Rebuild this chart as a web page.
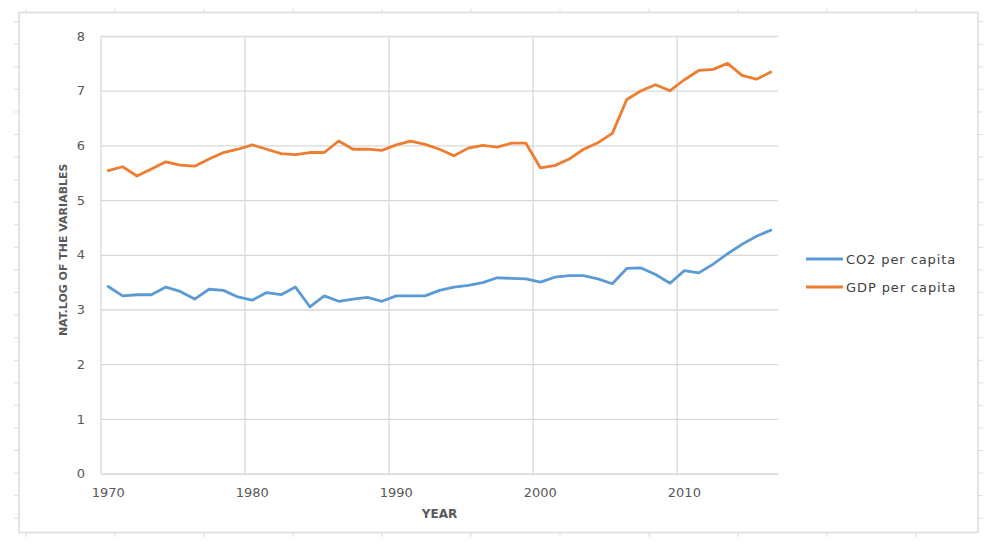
<!DOCTYPE html>
<html>
<head>
<meta charset="utf-8">
<script src="https://cdn.jsdelivr.net/npm/d3@7"></script>
<style>
  body { margin: 0; background: #fff; }
  svg text { font-family: "DejaVu Sans", sans-serif; }
</style>
</head>
<body>
<div id="wrapper"></div>
<script>
const years = d3.range(1970, 2017);

const co2 = [
  3.42, 3.25, 3.27, 3.27, 3.41, 3.33, 3.19, 3.37, 3.35, 3.23,
  3.17, 3.31, 3.27, 3.41, 3.05, 3.25, 3.15, 3.19, 3.22, 3.15,
  3.25, 3.25, 3.25, 3.35, 3.41, 3.44, 3.49, 3.58, 3.57, 3.56,
  3.50, 3.59, 3.62, 3.62, 3.56, 3.47, 3.75, 3.76, 3.64, 3.48,
  3.71, 3.67, 3.83, 4.02, 4.19, 4.34, 4.45,
];

const gdp = [
  5.54, 5.61, 5.44, 5.57, 5.70, 5.64, 5.62, 5.75, 5.87, 5.93,
  6.01, 5.93, 5.85, 5.83, 5.87, 5.87, 6.08, 5.93, 5.93, 5.91,
  6.01, 6.08, 6.02, 5.93, 5.81, 5.95, 6.00, 5.97, 6.04, 6.04,
  5.59, 5.63, 5.75, 5.93, 6.05, 6.22, 6.84, 7.00, 7.11, 7.00,
  7.20, 7.37, 7.39, 7.50, 7.28, 7.21, 7.34,
];

const xTickYears = [1970, 1980, 1990, 2000, 2010];
const yTicks = [0, 1, 2, 3, 4, 5, 6, 7, 8];

const seriesNames = ["CO2 per capita", "GDP per capita"];
const seriesColors = ["#5b9bd5", "#ed7d31"];

function buildChart() {
  const dimensions = { width: 995, height: 550 };
  const plot = { left: 101, right: 778, top: 36, bottom: 473.6 };

  const svg = d3
    .select("#wrapper")
    .append("svg")
    .attr("width", dimensions.width)
    .attr("height", dimensions.height);

  // outer frame with the little ruler ticks round it
  const frame = svg.append("g").attr("stroke", "#dcdcdc");
  frame
    .append("rect")
    .attr("x", 19)
    .attr("y", 12.5)
    .attr("width", 959)
    .attr("height", 520)
    .attr("fill", "none")
    .attr("stroke-width", 1.5);
  d3.range(26, 920, 89).forEach((tx) => {
    frame.append("line").attr("x1", tx).attr("x2", tx).attr("y1", 9).attr("y2", 12.5);
    frame.append("line").attr("x1", tx).attr("x2", tx).attr("y1", 533).attr("y2", 537);
  });
  d3.range(21.7, 525, 22.57).forEach((ty) => {
    frame.append("line").attr("x1", 14).attr("x2", 19).attr("y1", ty).attr("y2", ty);
    frame.append("line").attr("x1", 978).attr("x2", 983).attr("y1", ty).attr("y2", ty);
  });

  const x = d3
    .scaleBand()
    .domain(years)
    .range([plot.left, plot.right])
    .padding(0);

  const y = d3
    .scaleLinear()
    .domain([0, 8])
    .range([plot.bottom, plot.top]);

  // horizontal gridlines + y labels
  const yAxis = svg
    .append("g")
    .attr("transform", `translate(${plot.left},0)`)
    .call(
      d3
        .axisLeft(y)
        .tickValues(yTicks)
        .tickSize(-(plot.right - plot.left))
        .tickPadding(16)
    );
  yAxis.select(".domain").remove();
  yAxis.selectAll(".tick line").attr("stroke", "#d9d9d9").attr("stroke-width", 1.3);
  yAxis
    .selectAll(".tick text")
    .attr("fill", "#595959")
    .style("font-size", "13px");

  // vertical gridlines at the category boundaries
  svg
    .append("g")
    .selectAll("line")
    .data(xTickYears)
    .join("line")
    .attr("x1", (d) => x(d))
    .attr("x2", (d) => x(d))
    .attr("y1", plot.top)
    .attr("y2", plot.bottom)
    .attr("stroke", "#d9d9d9")
    .attr("stroke-width", 1.3);

  // x labels centred on the category
  const xAxis = svg
    .append("g")
    .attr("transform", `translate(0,${plot.bottom})`)
    .call(
      d3
        .axisBottom(x)
        .tickValues(xTickYears)
        .tickSize(0)
        .tickPadding(14)
    );
  xAxis.select(".domain").attr("stroke", "#d9d9d9").attr("stroke-width", 1.3);
  xAxis
    .selectAll(".tick text")
    .attr("fill", "#595959")
    .style("font-size", "13px");

  // series lines
  const line = (values) =>
    d3
      .line()
      .x((d, i) => x(years[i]) + x.bandwidth() / 2)
      .y((d) => y(d))(values);

  [co2, gdp].forEach((values, i) => {
    svg
      .append("path")
      .attr("d", line(values))
      .attr("fill", "none")
      .attr("stroke", seriesColors[i])
      .attr("stroke-width", 2.8)
      .attr("stroke-linejoin", "round")
      .attr("stroke-linecap", "round");
  });

  // axis titles
  svg
    .append("text")
    .attr("x", (plot.left + plot.right) / 2)
    .attr("y", 518)
    .attr("text-anchor", "middle")
    .attr("fill", "#595959")
    .style("font-size", "12px")
    .style("font-weight", "bold")
    .text("YEAR");

  svg
    .append("text")
    .attr("transform", `translate(67,${(plot.top + plot.bottom) / 2 - 5}) rotate(-90)`)
    .attr("text-anchor", "middle")
    .attr("fill", "#595959")
    .style("font-size", "11px")
    .style("font-weight", "bold")
    .text("NAT.LOG OF THE VARIABLES");

  // legend
  const legend = svg
    .selectAll(".legend")
    .data(seriesNames)
    .join("g")
    .attr("class", "legend")
    .attr("transform", (d, i) => `translate(806,${259 + i * 28})`);

  legend
    .append("line")
    .attr("x1", 0)
    .attr("x2", 37)
    .attr("stroke", (d, i) => seriesColors[i])
    .attr("stroke-width", 3);

  legend
    .append("text")
    .attr("x", 40)
    .attr("dy", "0.36em")
    .attr("fill", "#404040")
    .style("font-size", "13px")
    .style("letter-spacing", "0.9px")
    .text((d) => d);
}

buildChart();
</script>
</body>
</html>
